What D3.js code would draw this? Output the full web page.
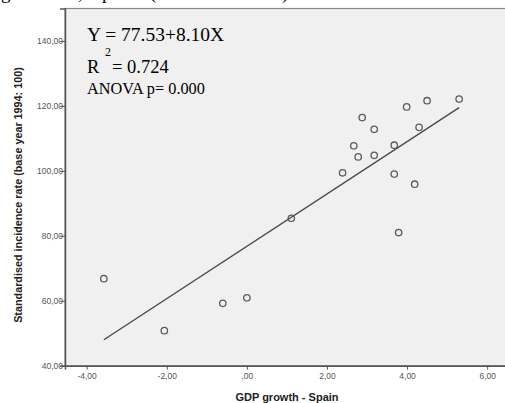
<!DOCTYPE html>
<html>
<head>
<meta charset="utf-8">
<script src="https://cdn.jsdelivr.net/npm/d3@7"></script>
<style>
  html, body { margin: 0; padding: 0; background: #fff; }
  svg { display: block; }
</style>
</head>
<body>
<svg id="chart" width="505" height="403"></svg>
<script>
// data
const gdpGrowth = [-3.57, -2.06, -0.60, 0.00, 1.11, 2.39, 2.67, 2.78, 2.88, 3.18,
                   3.18, 3.68, 3.68, 3.79, 3.99, 4.19, 4.30, 4.50, 5.30];
const incidence = [66.8, 50.8, 59.2, 60.9, 85.4, 99.4, 107.7, 104.3, 116.4, 112.8,
                   104.8, 107.9, 99.0, 81.0, 119.7, 95.9, 113.4, 121.6, 122.1];
const fitX = [-3.57, 5.30];
const fitY = [48.0, 119.5];
const xTicks = [-4, -2, 0, 2, 4, 6];
const xTickLabels = ['-4,00', '-2,00', ',00', '2,00', '4,00', '6,00'];
const yTicks = [40, 60, 80, 100, 120, 140];
const yTickLabels = ['40,00', '60,00', '80,00', '100,00', '120,00', '140,00'];
const annot = ['Y = 77.53+8.10X', '0.724', 'ANOVA p= 0.000'];

const svg = d3.select('#chart');
const pLeft = 65, pTop = 8.5, pBottom = 365.7, pRight = 512;

const x = d3.scaleLinear().domain([-4.54, 6.62]).range([pLeft, pRight]);
const y = d3.scaleLinear().domain([40, 150]).range([pBottom, pTop]);

// caption of the page above, only its descenders show
svg.append('text')
   .attr('y', -1)
   .style('font-family', '"Liberation Serif", "Times New Roman", serif')
   .style('font-size', '19px')
   .attr('fill', '#000')
   .selectAll('tspan')
   .data([['g', 1], [',', 78], ['p', 102], ['(', 150], [')', 282]])
   .enter().append('tspan')
   .attr('x', d => d[1])
   .text(d => d[0]);

// plot area
svg.append('rect')
   .attr('x', pLeft).attr('y', pTop)
   .attr('width', pRight - pLeft).attr('height', pBottom - pTop)
   .attr('fill', '#f0f0f0')
   .attr('stroke', '#8a8a8a')
   .attr('stroke-width', 1.2);

// 回归线
const line = d3.line().x(d => x(d[0])).y(d => y(d[1]));
svg.append('path')
   .datum(fitX.map((v, i) => [v, fitY[i]]))
   .attr('d', line)
   .attr('fill', 'none')
   .attr('stroke', '#4a4a4a')
   .attr('stroke-width', 1.4);

// 散点
svg.append('g')
   .selectAll('circle')
   .data(gdpGrowth.map((v, i) => [v, incidence[i]]))
   .enter().append('circle')
   .attr('cx', d => x(d[0]))
   .attr('cy', d => y(d[1]))
   .attr('r', 3.2)
   .attr('fill', 'none')
   .attr('stroke', '#5a5a5a')
   .attr('stroke-width', 1.3);

// axes
svg.append('g')
   .attr('class', 'xAxis')
   .attr('transform', `translate(0,${pBottom})`)
   .call(d3.axisBottom(x)
           .tickValues(xTicks)
           .tickSize(4)
           .tickPadding(3)
           .tickFormat((v, i) => xTickLabels[i]));

svg.append('g')
   .attr('class', 'yAxis')
   .attr('transform', `translate(${pLeft},0)`)
   .call(d3.axisLeft(y)
           .tickValues(yTicks)
           .tickSize(5)
           .tickPadding(-3)
           .tickFormat((v, i) => yTickLabels[i]));

svg.selectAll('.xAxis .domain, .yAxis .domain')
   .attr('stroke', '#555')
   .attr('stroke-width', 1.5);
svg.selectAll('.xAxis .tick line, .yAxis .tick line')
   .attr('stroke', '#555');
svg.selectAll('.xAxis .tick text, .yAxis .tick text')
   .attr('fill', '#555')
   .style('font-family', '"Liberation Sans", Arial, sans-serif')
   .style('font-size', '8.5px');
svg.selectAll('.yAxis .tick line').raise();

// axis titles
svg.append('text')
   .attr('x', 287).attr('y', 401)
   .attr('text-anchor', 'middle')
   .style('font-family', '"Liberation Sans", Arial, sans-serif')
   .style('font-size', '11px')
   .style('font-weight', 'bold')
   .attr('fill', '#222')
   .text('GDP growth - Spain');

svg.append('text')
   .attr('transform', 'translate(22,195) rotate(-90)')
   .attr('text-anchor', 'middle')
   .style('font-family', '"Liberation Sans", Arial, sans-serif')
   .style('font-size', '10.8px')
   .style('font-weight', 'bold')
   .attr('fill', '#222')
   .text('Standardised incidence rate (base year 1994: 100)');

// equation box
const serif = '"Liberation Serif", "Times New Roman", serif';
svg.append('text')
   .attr('x', 87).attr('y', 40.5)
   .style('font-family', serif).style('font-size', '19.5px')
   .text(annot[0]);
const r2 = svg.append('text')
   .attr('x', 87).attr('y', 73)
   .style('font-family', serif).style('font-size', '18.5px');
r2.append('tspan').text('R');
r2.append('tspan').attr('x', 105).attr('y', 56).style('font-size', '12px').text('2');
r2.append('tspan').attr('x', 112).attr('y', 73).text('= ' + annot[1]);
svg.append('text')
   .attr('x', 87).attr('y', 94.3)
   .style('font-family', serif).style('font-size', '16.3px')
   .text(annot[2]);
</script>
</body>
</html>
